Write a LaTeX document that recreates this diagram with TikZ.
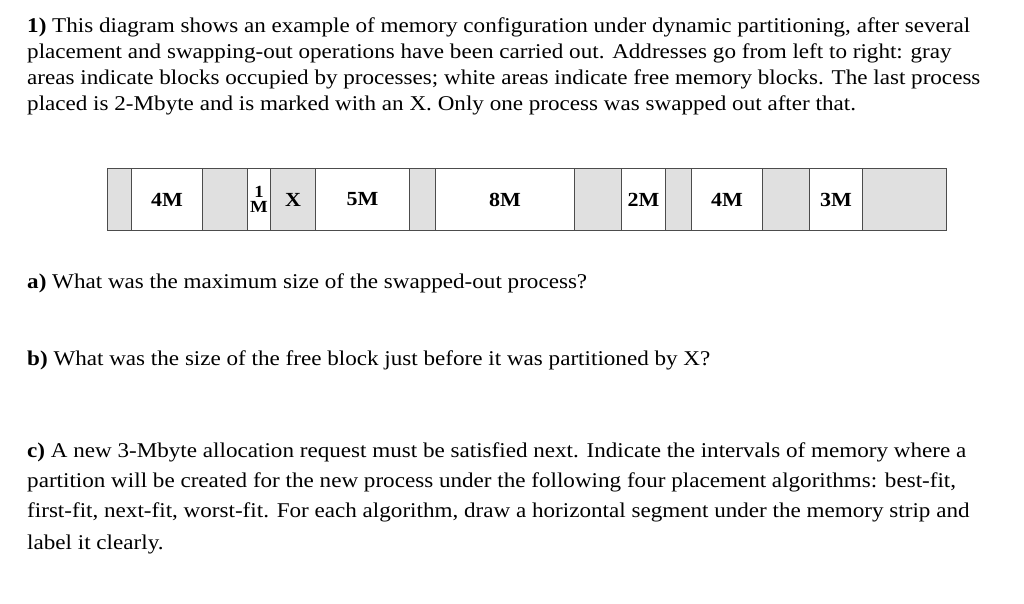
\documentclass[tikz,border=0pt]{standalone}
\usepackage{fontspec}
\setmainfont[FakeStretch=1.1]{Liberation Serif}
\begin{document}
\begin{tikzpicture}[x=1pt,y=-1pt,
  txt/.style={anchor=west,inner sep=0pt,font=\fontsize{21}{24}\selectfont},
  cell/.style={draw=black!70,line width=1pt,inner sep=0pt,anchor=north west,font=\fontsize{20}{22}\selectfont\bfseries},
  gcell/.style={cell,fill=black!12},
  wcell/.style={cell,fill=white}]
\useasboundingbox (0,0) rectangle (1024,604);
\node[txt] (l1) at (27,27) {\textbf{1)} This diagram shows an example of memory configuration under dynamic partitioning, after several};
\node[txt] (l2) at (27,53) {placement and swapping-out operations have been carried out. Addresses go from left to right: gray};
\node[txt] (l3) at (27,79) {areas indicate blocks occupied by processes; white areas indicate free memory blocks. The last process};
\node[txt] (l4) at (27,105) {placed is 2-Mbyte and is marked with an X. Only one process was swapped out after that.};
% strip
\foreach \a/\b/\s/\t/\n in {107/131/gcell//c1, 131/202/wcell/4M/c2, 202/247/gcell//c3,
  247/270/wcell/{}/c4, 270/315/gcell/X/c5, 315/409/wcell/5M/c6, 409/435/gcell//c7,
  435/574/wcell/8M/c8, 574/621/gcell//c9, 621/665/wcell/2M/c10, 665/691/gcell//c11,
  691/762/wcell/4M/c12, 762/809/gcell//c13, 809/862/wcell/3M/c14, 862/946/gcell//c15}
  \node[\s,minimum width=\b-\a,minimum height=62] (\n) at (\a,168) {\t};
\node[inner sep=0pt,font=\fontsize{17}{15}\selectfont\bfseries,align=center] (m1) at (c4) {1\\M};
\node[txt] (qa) at (27,283) {\textbf{a)} What was the maximum size of the swapped-out process?};
\node[txt] (qb) at (27,360) {\textbf{b)} What was the size of the free block just before it was partitioned by X?};
\node[txt] (qc1) at (27,452) {\textbf{c)} A new 3-Mbyte allocation request must be satisfied next. Indicate the intervals of memory where a};
\node[txt] (qc2) at (27,482) {partition will be created for the new process under the following four placement algorithms: best-fit,};
\node[txt] (qc3) at (27,512) {first-fit, next-fit, worst-fit. For each algorithm, draw a horizontal segment under the memory strip and};
\node[txt] (qc4) at (27,544) {label it clearly.};
\end{tikzpicture}
\end{document}
